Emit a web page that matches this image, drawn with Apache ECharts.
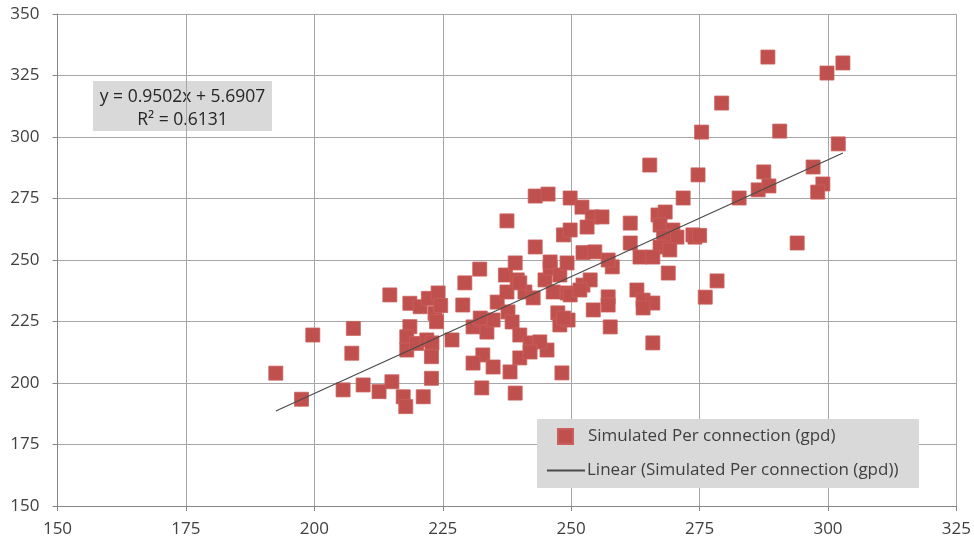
<!DOCTYPE html>
<html>
<head>
<meta charset="utf-8">
<script src="https://cdn.jsdelivr.net/npm/echarts@6/dist/echarts.min.js"></script>
<style>
  html, body { margin: 0; padding: 0; background: #fff; }
  #chart { width: 974px; height: 543px; }
</style>
</head>
<body>
<div id="chart"></div>
<script>
// Simulated per-connection demand (gpd): x and y of each sample
const xValues = [
  192.5, 197.5, 199.7, 205.6, 207.3, 207.6, 209.5, 212.6, 214.7, 215.1,
  217.3, 217.8, 218.6, 220.6, 222.2, 224.1, 223.5, 223.8, 218.6, 218.0,
  218.0, 219.9, 221.9, 221.2, 222.8, 222.8, 224.6, 222.9,
  226.8, 229.3, 228.9, 232.2, 230.9, 232.8, 233.6, 234.8, 232.8, 230.9,
  234.8, 232.6, 235.6, 237.2, 237.5, 239.1, 237.7, 238.5, 240.0, 242.0,
  245.3, 240.0, 238.1, 239.1, 248.2, 241.0, 242.6, 244.9, 245.9, 246.5,
  247.4, 247.8, 249.4, 249.2, 243.0, 245.5, 237.5, 243.0, 239.5, 245.9,
  247.8, 248.5, 240.0, 243.9, 242.0, 232.3,
  249.8, 252.1, 254.1, 256.0, 253.1, 249.8, 252.3, 254.6, 249.2, 258.0,
  257.2, 252.3, 253.7, 254.3, 257.6, 257.2, 249.8, 251.7, 257.2, 262.8,
  264.0, 265.9, 264.0, 265.9, 248.5, 265.3, 271.8, 261.5, 266.9, 268.3,
  267.3, 269.8, 270.6, 273.7, 268.0, 261.5, 267.3, 263.4, 265.9, 269.2,
  268.9,
  274.7, 288.3, 299.8, 302.9, 279.3, 275.4, 290.6, 302.0, 287.5, 297.1,
  286.4, 288.5, 299.0, 298.0, 282.7, 274.1, 275.0, 294.0, 278.4, 276.1
];
const yValues = [
  204.0, 193.4, 219.5, 197.2, 212.1, 222.2, 199.2, 196.5, 235.8, 200.5,
  194.4, 190.4, 232.4, 231.0, 234.4, 236.6, 228.3, 224.9, 222.9, 218.8,
  213.4, 216.1, 217.5, 194.4, 201.9, 210.7, 231.5, 216.3,
  217.5, 240.7, 231.7, 246.3, 222.8, 225.6, 220.7, 225.6, 211.4, 208.1,
  206.5, 198.0, 232.9, 243.9, 237.0, 248.8, 228.9, 224.8, 219.5, 216.3,
  213.4, 210.2, 204.5, 195.9, 204.1, 237.0, 234.6, 241.9, 246.7, 237.0,
  228.5, 223.6, 225.6, 236.6, 276.0, 276.8, 265.9, 255.3, 241.9, 249.2,
  243.9, 260.2, 240.7, 216.7, 212.6, 226.4,
  275.2, 271.5, 267.5, 267.5, 263.4, 262.2, 253.0, 253.3, 248.8, 247.2,
  250.0, 239.8, 241.9, 229.7, 222.8, 235.0, 235.8, 237.8, 231.7, 237.8,
  233.7, 232.5, 230.5, 216.3, 226.4, 288.6, 275.2, 265.0, 268.3, 269.5,
  264.2, 262.2, 259.3, 260.2, 259.3, 256.9, 255.3, 251.2, 251.2, 254.1,
  244.7,
  284.6, 332.5, 326.0, 330.1, 313.8, 302.0, 302.4, 297.2, 285.8, 287.8,
  278.5, 280.1, 280.9, 277.6, 275.2, 259.3, 260.0, 256.9, 241.5, 234.9
];

// Axis ranges and tick step
const xTicks = [150, 175, 200, 225, 250, 275, 300, 325];
const yTicks = [150, 175, 200, 225, 250, 275, 300, 325, 350];
const tickStep = 25;

// Linear trendline reported for the series
const slope = 0.9502;
const intercept = 5.6907;
const rSquared = 0.6131;

const seriesName = 'Simulated Per connection (gpd)';
const trendName = 'Linear (Simulated Per connection (gpd))';

const points = xValues.map((x, i) => [x, yValues[i]]);
const xMinData = Math.min(...xValues);
const xMaxData = Math.max(...xValues);
const trend = [
  [xMinData, slope * xMinData + intercept],
  [xMaxData, slope * xMaxData + intercept]
];

const FONT = '"Open Sans", "Liberation Sans", sans-serif';
const TEXT = '#404040';
const GRID_LINE = '#a6a6a6';
const AXIS_LINE = '#868686';
const TREND = '#4a4a4a';

const chart = echarts.init(document.getElementById('chart'), null, { renderer: 'canvas' });

chart.setOption({
  animation: false,
  backgroundColor: '#ffffff',
  textStyle: { fontFamily: FONT },
  grid: { left: 57.5, right: 17, top: 14, bottom: 37, containLabel: false },
  xAxis: {
    type: 'value',
    min: xTicks[0],
    max: xTicks[xTicks.length - 1],
    interval: tickStep,
    axisLine: { show: true, onZero: false, lineStyle: { color: AXIS_LINE, width: 1 } },
    axisTick: { show: true, length: 5, lineStyle: { color: AXIS_LINE } },
    axisLabel: { color: TEXT, fontSize: 17, fontFamily: FONT, margin: 15 },
    splitLine: { show: true, lineStyle: { color: GRID_LINE, width: 1 } }
  },
  yAxis: {
    type: 'value',
    min: yTicks[0],
    max: yTicks[yTicks.length - 1],
    interval: tickStep,
    axisLine: { show: true, onZero: false, lineStyle: { color: AXIS_LINE, width: 1 } },
    axisTick: { show: true, length: 5, lineStyle: { color: AXIS_LINE } },
    axisLabel: { color: TEXT, fontSize: 17, fontFamily: FONT, margin: 18 },
    splitLine: { show: true, lineStyle: { color: GRID_LINE, width: 1 } }
  },
  legend: [
    {
      data: [{ name: seriesName, icon: 'rect' }],
      left: 557, top: 428, padding: 0,
      itemWidth: 15, itemHeight: 15,
      textStyle: { color: TEXT, fontSize: 17, fontFamily: FONT, padding: [0, 0, 0, 10] }
    },
    {
      data: [{ name: trendName, itemStyle: { opacity: 0 } }],
      left: 546, top: 462, padding: 0,
      itemWidth: 38, itemHeight: 14,
      textStyle: { color: TEXT, fontSize: 17, fontFamily: FONT, padding: [0, 0, 0, -3] }
    }
  ],
  graphic: [
    {
      type: 'rect',
      left: 537, top: 419, z: 3,
      shape: { width: 382, height: 69 },
      style: { fill: '#d9d9d9' },
      silent: true
    },
    {
      type: 'group',
      left: 93, top: 81, z: 5,
      children: [
        {
          type: 'rect',
          shape: { x: 0, y: 0, width: 179, height: 50 },
          style: { fill: '#d9d9d9' }
        },
        {
          type: 'text',
          x: 89.5, y: 27.5,
          style: {
            text: 'y = ' + slope.toFixed(4) + 'x + ' + intercept.toFixed(4) + '\nR² = ' + rSquared.toFixed(4),
            fill: '#262626',
            font: '17.5px ' + FONT,
            align: 'center',
            verticalAlign: 'middle',
            lineHeight: 23
          }
        }
      ]
    }
  ],
  series: [
    {
      name: seriesName,
      type: 'scatter',
      data: points,
      symbol: 'rect',
      symbolSize: 14,
      itemStyle: { color: '#c0504d', borderColor: '#c95f5c', borderWidth: 0.8, opacity: 1 },
      z: 2
    },
    {
      name: trendName,
      type: 'line',
      data: trend,
      symbol: 'none',
      itemStyle: { color: TREND },
      lineStyle: { color: TREND, width: 1.2 },
      z: 3,
      silent: true
    }
  ]
});
</script>
</body>
</html>
